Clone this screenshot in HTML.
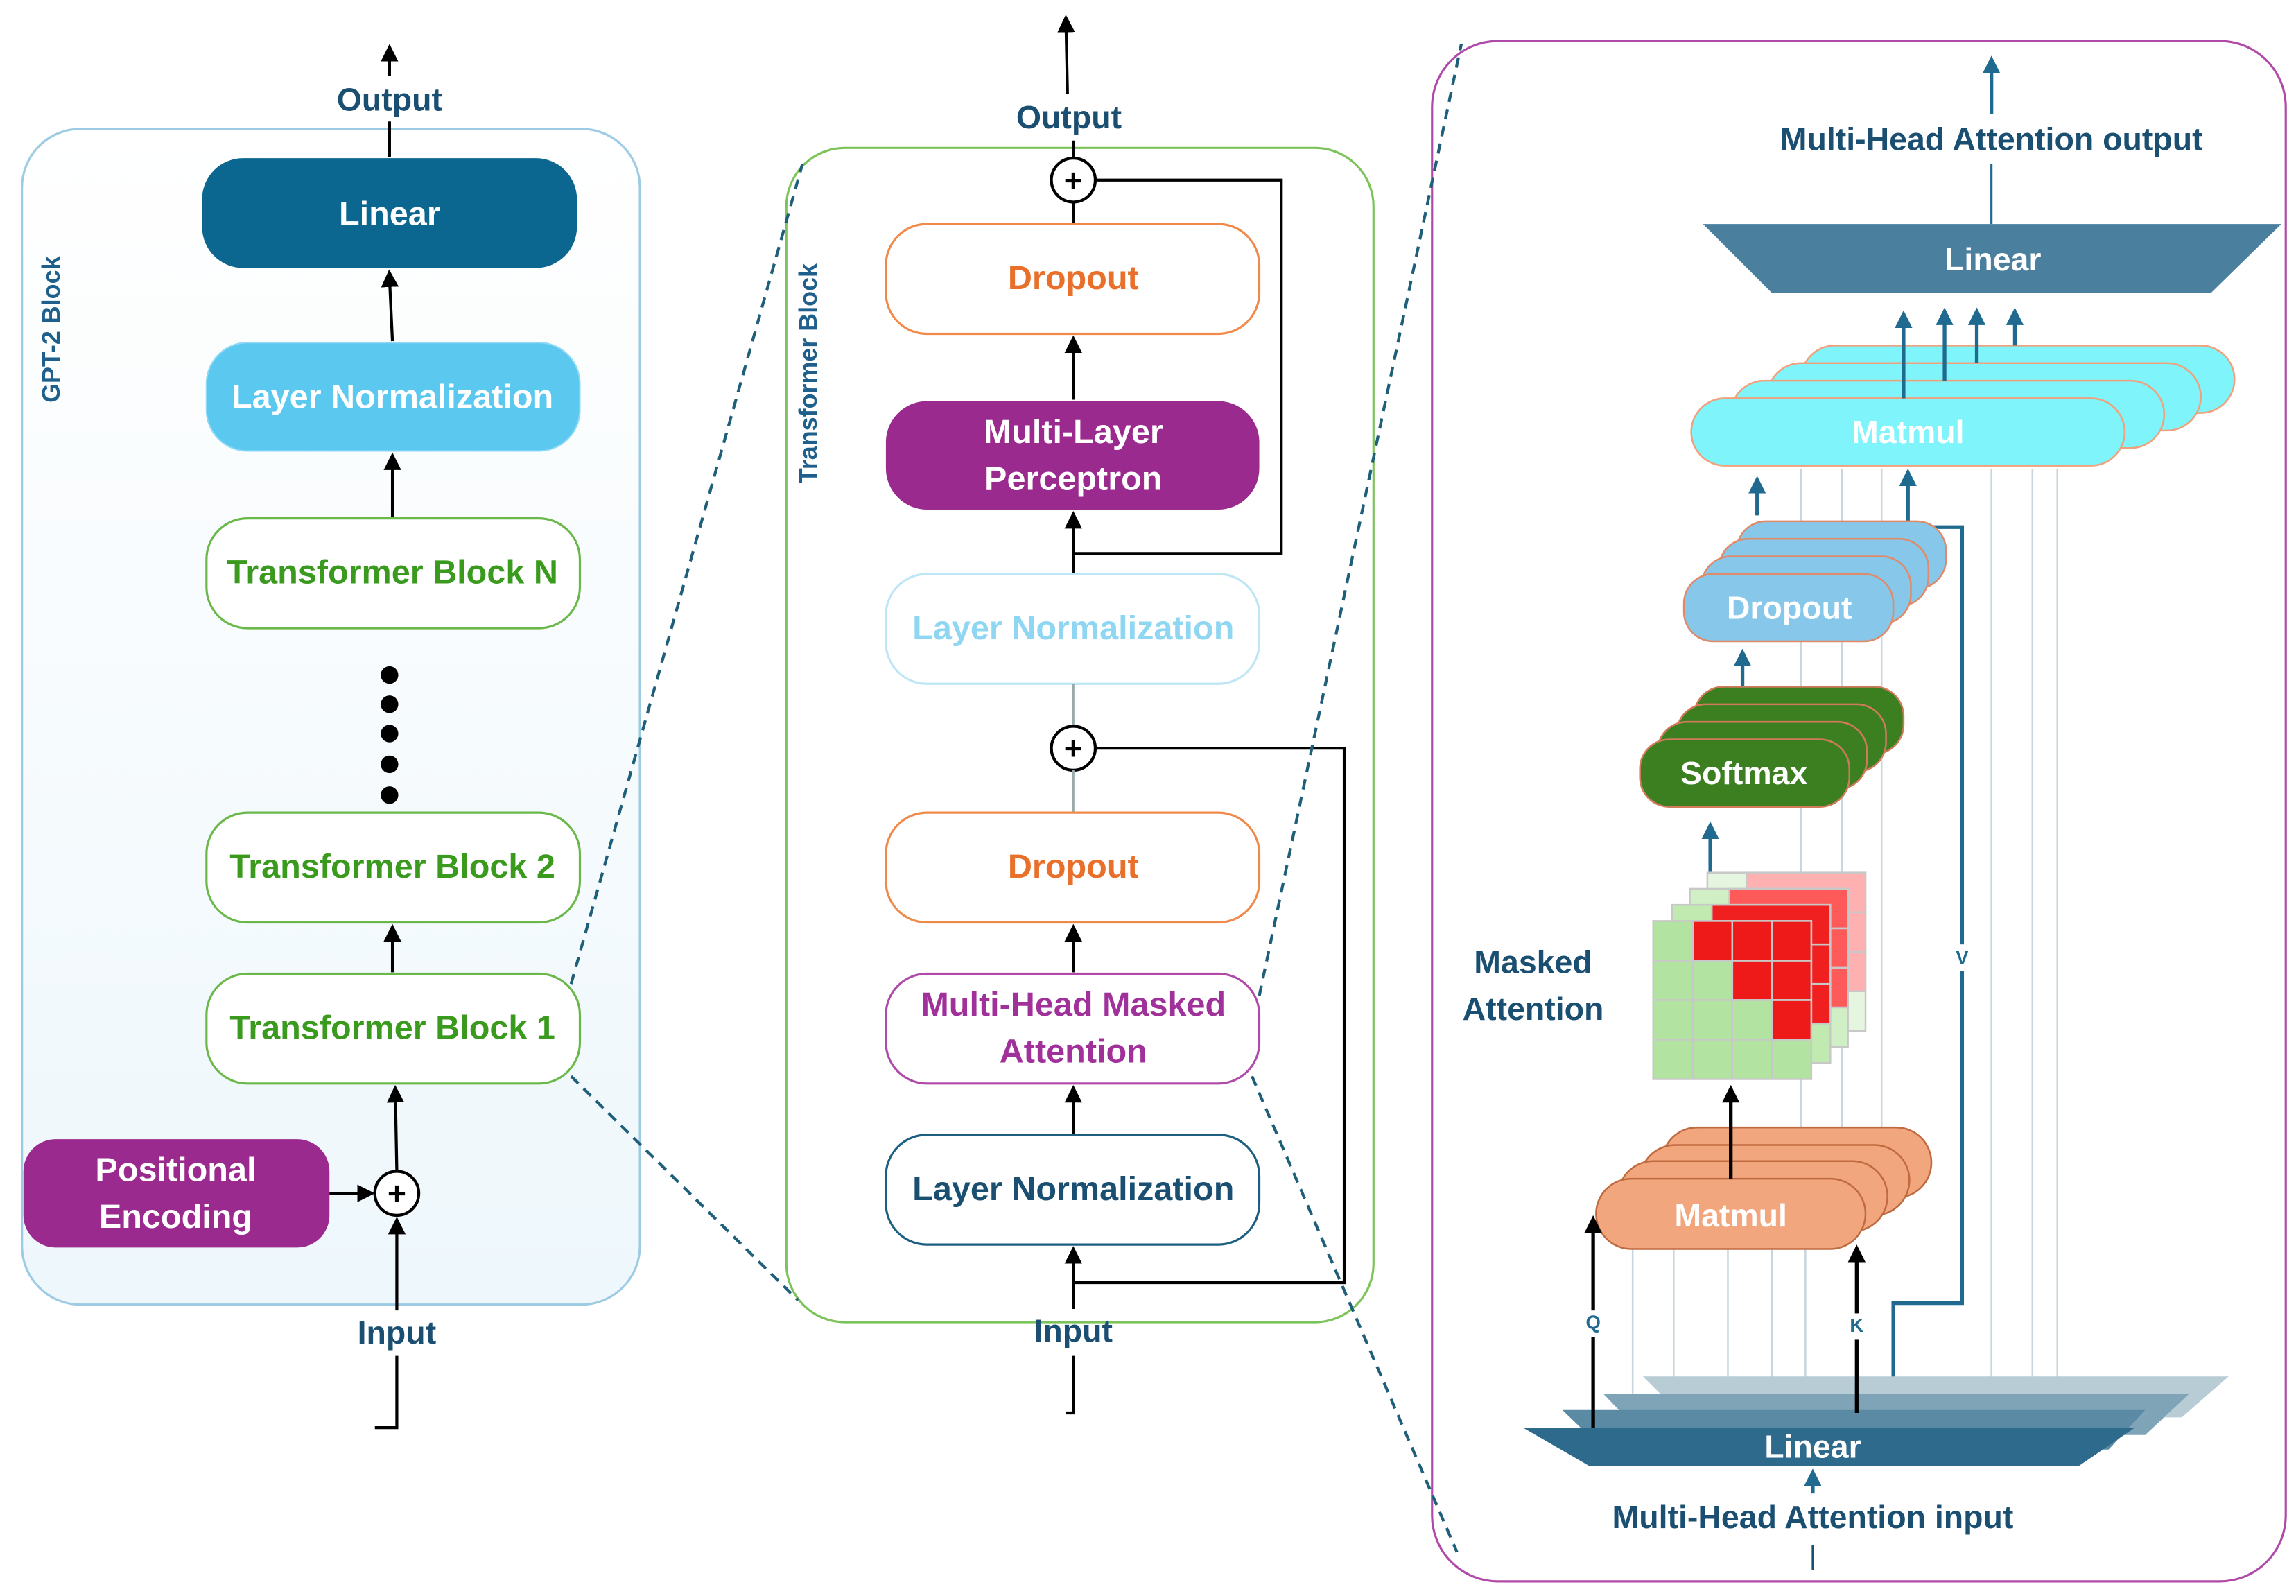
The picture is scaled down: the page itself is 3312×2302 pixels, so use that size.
<!DOCTYPE html>
<html><head><meta charset="utf-8"><style>
html,body{margin:0;padding:0;background:#fff}
svg{display:block}
text{font-family:"Liberation Sans",sans-serif;font-weight:bold;text-anchor:middle;dominant-baseline:central}
</style></head><body>
<svg width="3312" height="2302" viewBox="0 0 1568 1090" preserveAspectRatio="none" xmlns="http://www.w3.org/2000/svg">
<defs>
<marker id="au" markerWidth="12" markerHeight="12" refX="6" refY="6" orient="auto" markerUnits="userSpaceOnUse" viewBox="0 0 12 12"><path d="M0,0 L12,6 L0,12z" fill="#000"/></marker>
<marker id="abl" markerWidth="12" markerHeight="12" refX="6" refY="6" orient="auto" markerUnits="userSpaceOnUse" viewBox="0 0 12 12"><path d="M0,0 L12,6 L0,12z" fill="#1f6a8e"/></marker>
<linearGradient id="lg" x1="0" y1="0" x2="0" y2="1"><stop offset="0" stop-color="#fff"/><stop offset="1" stop-color="#eef7fc"/></linearGradient>
</defs>

<!-- LEFT PANEL -->
<rect x="15" y="88" width="422" height="803" rx="40" fill="url(#lg)" stroke="#9ccbe3" stroke-width="1.5"/>
<text x="35" y="225" transform="rotate(-90 35 225)" font-size="17" fill="#1f5f8b">GPT-2 Block</text>
<text x="266" y="68" font-size="22" fill="#1a4f72">Output</text>
<line x1="266" y1="52" x2="266" y2="36" stroke="#000" stroke-width="2" marker-end="url(#au)"/>
<line x1="266" y1="107" x2="266" y2="83" stroke="#000" stroke-width="2"/>
<rect x="138" y="108" width="256" height="75" rx="28" fill="#0b6690"/>
<text x="266" y="146" font-size="23" fill="#fff">Linear</text>
<line x1="268" y1="233" x2="266" y2="190" stroke="#000" stroke-width="2" marker-end="url(#au)"/>
<rect x="141" y="234" width="255" height="74" rx="28" fill="#5bc8f0" stroke="#8fd8f6"/>
<text x="268" y="271" font-size="23" fill="#fff">Layer Normalization</text>
<line x1="268" y1="353" x2="268" y2="315" stroke="#000" stroke-width="2" marker-end="url(#au)"/>
<rect x="141" y="354" width="255" height="75" rx="28" fill="#fff" stroke="#6bb84a" stroke-width="1.5"/>
<text x="268" y="391" font-size="23" fill="#3a9a1e">Transformer Block N</text>
<g fill="#000"><circle cx="266" cy="461" r="6"/><circle cx="266" cy="481" r="6"/><circle cx="266" cy="501" r="6"/><circle cx="266" cy="522" r="6"/><circle cx="266" cy="543" r="6"/></g>
<rect x="141" y="555" width="255" height="75" rx="28" fill="#fff" stroke="#6bb84a" stroke-width="1.5"/>
<text x="268" y="592" font-size="23" fill="#3a9a1e">Transformer Block 2</text>
<line x1="268" y1="664" x2="268" y2="637" stroke="#000" stroke-width="2" marker-end="url(#au)"/>
<rect x="141" y="665" width="255" height="75" rx="28" fill="#fff" stroke="#6bb84a" stroke-width="1.5"/>
<text x="268" y="702" font-size="23" fill="#3a9a1e">Transformer Block 1</text>
<line x1="271" y1="800" x2="270" y2="747" stroke="#000" stroke-width="2" marker-end="url(#au)"/>
<rect x="16" y="778" width="209" height="74" rx="22" fill="#9b2a8e"/>
<text x="120" y="799" font-size="23" fill="#fff">Positional</text>
<text x="120" y="831" font-size="23" fill="#fff">Encoding</text>
<line x1="225" y1="815" x2="250" y2="815" stroke="#000" stroke-width="2" marker-end="url(#au)"/>
<circle cx="271" cy="815" r="15" fill="#fff" stroke="#000" stroke-width="2"/>
<text x="271" y="815" font-size="22" fill="#000">+</text>
<text x="271" y="910" font-size="22" fill="#1a4f72">Input</text>
<polyline points="256,975 271,975 271,926" fill="none" stroke="#000" stroke-width="2"/>
<line x1="271" y1="895" x2="271" y2="837" stroke="#000" stroke-width="2" marker-end="url(#au)"/>

<!-- MIDDLE PANEL -->
<rect x="537" y="101" width="401" height="802" rx="40" fill="#fff" stroke="#7cc35a" stroke-width="1.5"/>
<line x1="390" y1="672" x2="548" y2="112" stroke="#1f5f7a" stroke-width="2" stroke-dasharray="7,5"/>
<line x1="390" y1="735" x2="545" y2="888" stroke="#1f5f7a" stroke-width="2" stroke-dasharray="7,5"/>
<text x="552" y="255" transform="rotate(-90 552 255)" font-size="17" fill="#1f5f8b">Transformer Block</text>
<text x="730" y="80" font-size="22" fill="#1a4f72">Output</text>
<line x1="729" y1="64" x2="728" y2="16" stroke="#000" stroke-width="2" marker-end="url(#au)"/>
<line x1="733" y1="108" x2="733" y2="96" stroke="#000" stroke-width="2"/>
<polyline points="748,123 875,123 875,378 733,378" fill="none" stroke="#000" stroke-width="2"/>
<circle cx="733" cy="123" r="15" fill="#fff" stroke="#000" stroke-width="2"/>
<text x="733" y="123" font-size="22" fill="#000">+</text>
<line x1="733" y1="153" x2="733" y2="138" stroke="#000" stroke-width="2"/>
<rect x="605" y="153" width="255" height="75" rx="28" fill="#fff" stroke="#f08a4b" stroke-width="1.5"/>
<text x="733" y="190" font-size="23" fill="#e8702a">Dropout</text>
<line x1="733" y1="273" x2="733" y2="235" stroke="#000" stroke-width="2" marker-end="url(#au)"/>
<rect x="605" y="274" width="255" height="74" rx="28" fill="#9b2a8e"/>
<text x="733" y="295" font-size="23" fill="#fff">Multi-Layer</text>
<text x="733" y="327" font-size="23" fill="#fff">Perceptron</text>
<line x1="733" y1="392" x2="733" y2="355" stroke="#000" stroke-width="2" marker-end="url(#au)"/>
<rect x="605" y="392" width="255" height="75" rx="28" fill="#fff" stroke="#bfe6f5" stroke-width="1.5"/>
<text x="733" y="429" font-size="23" fill="#8fd6f2">Layer Normalization</text>
<line x1="733" y1="467" x2="733" y2="496" stroke="#9aa" stroke-width="1.5"/>
<polyline points="748,511 918,511 918,876 733,876" fill="none" stroke="#000" stroke-width="2"/>
<circle cx="733" cy="511" r="15" fill="#fff" stroke="#000" stroke-width="2"/>
<text x="733" y="511" font-size="22" fill="#000">+</text>
<line x1="733" y1="555" x2="733" y2="526" stroke="#9aa" stroke-width="1.5"/>
<rect x="605" y="555" width="255" height="75" rx="28" fill="#fff" stroke="#f08a4b" stroke-width="1.5"/>
<text x="733" y="592" font-size="23" fill="#e8702a">Dropout</text>
<line x1="733" y1="664" x2="733" y2="637" stroke="#000" stroke-width="2" marker-end="url(#au)"/>
<rect x="605" y="665" width="255" height="75" rx="28" fill="#fff" stroke="#b04aa8" stroke-width="1.5"/>
<text x="733" y="686" font-size="23" fill="#a0309a">Multi-Head Masked</text>
<text x="733" y="718" font-size="23" fill="#a0309a">Attention</text>
<line x1="733" y1="775" x2="733" y2="747" stroke="#000" stroke-width="2" marker-end="url(#au)"/>
<rect x="605" y="775" width="255" height="75" rx="28" fill="#fff" stroke="#1d5f80" stroke-width="1.5"/>
<text x="733" y="812" font-size="23" fill="#1a4f72">Layer Normalization</text>
<line x1="733" y1="894" x2="733" y2="857" stroke="#000" stroke-width="2" marker-end="url(#au)"/>
<text x="733" y="909" font-size="22" fill="#1a4f72">Input</text>
<polyline points="728,965 733,965 733,926" fill="none" stroke="#000" stroke-width="2"/>

<!-- RIGHT PANEL -->
<rect x="978" y="28" width="583" height="1052" rx="45" fill="none" stroke="#b04aa8" stroke-width="1.5"/>
<line x1="860" y1="680" x2="998" y2="30" stroke="#1f5f7a" stroke-width="2" stroke-dasharray="7,5"/>
<line x1="855" y1="735" x2="995" y2="1060" stroke="#1f5f7a" stroke-width="2" stroke-dasharray="7,5"/>
<text x="1360" y="95" font-size="22" fill="#1a4f72">Multi-Head Attention output</text>
<line x1="1360" y1="78" x2="1360" y2="44" stroke="#1f6a8e" stroke-width="2.5" marker-end="url(#abl)"/>
<line x1="1360" y1="153" x2="1360" y2="112" stroke="#1f6a8e" stroke-width="1.5"/>
<polygon points="1163,153 1558,153 1510,200 1210,200" fill="#4a7f9e"/>
<text x="1361" y="177" font-size="22" fill="#fff">Linear</text>

<g stroke="#c8d6dd" stroke-width="1.2">
<line x1="1115" y1="850" x2="1115" y2="975"/><line x1="1143" y1="850" x2="1143" y2="960"/><line x1="1180" y1="850" x2="1180" y2="960"/><line x1="1210" y1="850" x2="1210" y2="960"/><line x1="1233" y1="850" x2="1233" y2="960"/>
<line x1="1230" y1="320" x2="1230" y2="770"/><line x1="1258" y1="320" x2="1258" y2="770"/><line x1="1285" y1="320" x2="1285" y2="770"/>
<line x1="1360" y1="320" x2="1360" y2="945"/><line x1="1388" y1="320" x2="1388" y2="945"/><line x1="1405" y1="320" x2="1405" y2="945"/>
</g>

<g fill="#7ff5fb" stroke="#f0a07a" stroke-width="1.2">
<rect x="1230" y="236" width="296" height="46" rx="23"/>
<rect x="1207" y="248" width="296" height="46" rx="23"/>
<rect x="1182" y="260" width="296" height="46" rx="23"/>
<rect x="1155" y="272" width="296" height="46" rx="23"/>
</g>
<text x="1303" y="295" font-size="22" fill="#fff">Matmul</text>
<g stroke="#1f6a8e" stroke-width="2.5" fill="none">
<line x1="1300" y1="272" x2="1300" y2="218" marker-end="url(#abl)"/>
<line x1="1328" y1="260" x2="1328" y2="216" marker-end="url(#abl)"/>
<line x1="1350" y1="248" x2="1350" y2="216" marker-end="url(#abl)"/>
<line x1="1376" y1="236" x2="1376" y2="216" marker-end="url(#abl)"/>
<line x1="1200" y1="352" x2="1200" y2="331" marker-end="url(#abl)"/>
<line x1="1190" y1="470" x2="1190" y2="449" marker-end="url(#abl)"/>
<line x1="1168" y1="605" x2="1168" y2="567" marker-end="url(#abl)"/>
<polyline points="1293,975 1293,890 1340,890 1340,360 1303,360 1303,326" marker-end="url(#abl)"/>
</g>
<rect x="1334" y="645" width="12" height="18" fill="#fff"/>
<text x="1340" y="654" font-size="13" font-weight="normal" fill="#1f6a8e">V</text>

<g fill="#86c7ea" stroke="#e08a6a" stroke-width="1.2">
<rect x="1186" y="356" width="143" height="46" rx="20"/>
<rect x="1174" y="368" width="143" height="46" rx="20"/>
<rect x="1162" y="380" width="143" height="46" rx="20"/>
<rect x="1150" y="392" width="143" height="46" rx="20"/>
</g>
<text x="1222" y="415" font-size="22" fill="#fff">Dropout</text>

<g fill="#3b7f21" stroke="#d07a5a" stroke-width="1.2">
<rect x="1157" y="469" width="143" height="46" rx="20"/>
<rect x="1145" y="481" width="143" height="46" rx="20"/>
<rect x="1132" y="493" width="143" height="46" rx="20"/>
<rect x="1120" y="505" width="143" height="46" rx="20"/>
</g>
<text x="1191" y="528" font-size="22" fill="#fff">Softmax</text>

<text x="1047" y="657" font-size="22" fill="#1a4f72">Masked</text>
<text x="1047" y="689" font-size="22" fill="#1a4f72">Attention</text>
<g stroke="#c8c8c8" stroke-width="1.2">
<g transform="translate(1166,596)">
<rect x="0" y="0" width="108" height="108" fill="#e6f5df"/>
<rect x="27" y="0" width="81" height="27" fill="#ffb0b0"/><rect x="54" y="27" width="54" height="27" fill="#ffb0b0"/><rect x="81" y="54" width="27" height="27" fill="#ffb0b0"/>
</g>
<g transform="translate(1154,607)">
<rect x="0" y="0" width="108" height="108" fill="#d0efc4"/>
<rect x="27" y="0" width="81" height="27" fill="#ff5a5a"/><rect x="54" y="27" width="54" height="27" fill="#ff5a5a"/><rect x="81" y="54" width="27" height="27" fill="#ff5a5a"/>
</g>
<g transform="translate(1142,618)">
<rect x="0" y="0" width="108" height="108" fill="#c0eab0"/>
<rect x="27" y="0" width="81" height="27" fill="#f02020"/><rect x="54" y="27" width="54" height="27" fill="#f02020"/><rect x="81" y="54" width="27" height="27" fill="#f02020"/>
</g>
<g transform="translate(1129,629)">
<rect x="0" y="0" width="108" height="108" fill="#b2e3a0"/>
<rect x="27" y="0" width="81" height="27" fill="#ee1a1a"/><rect x="54" y="27" width="54" height="27" fill="#ee1a1a"/><rect x="81" y="54" width="27" height="27" fill="#ee1a1a"/>
<path d="M27,0V108M54,0V108M81,0V108M0,27H108M0,54H108M0,81H108" fill="none"/>
</g>
</g>

<g fill="#f2a67e" stroke="#c06a40" stroke-width="1.2">
<rect x="1135" y="770" width="184" height="48" rx="24"/>
<rect x="1120" y="782" width="184" height="48" rx="24"/>
<rect x="1105" y="793" width="184" height="48" rx="24"/>
<rect x="1090" y="805" width="184" height="48" rx="24"/>
</g>
<text x="1182" y="830" font-size="22" font-weight="normal" fill="#fff">Matmul</text>
<line x1="1182" y1="805" x2="1182" y2="747" stroke="#000" stroke-width="2.5" marker-end="url(#au)"/>

<polygon points="1122,940 1522,940 1490,968 1150,968" fill="#b8ccd6"/>
<polygon points="1095,952 1495,952 1465,980 1122,980" fill="#7fa4b8"/>
<polygon points="1067,963 1465,963 1440,990 1095,990" fill="#5a8aa4"/>
<polygon points="1040,975 1458,975 1420,1001 1085,1001" fill="#2d6a8c"/>
<text x="1238" y="988" font-size="22" fill="#fff">Linear</text>

<line x1="1088" y1="975" x2="1088" y2="836" stroke="#000" stroke-width="2.5" marker-end="url(#au)"/>
<line x1="1268" y1="965" x2="1268" y2="856" stroke="#000" stroke-width="2.5" marker-end="url(#au)"/>
<rect x="1080" y="895" width="16" height="18" fill="#fff"/>
<text x="1088" y="903" font-size="13" font-weight="normal" fill="#1f6a8e">Q</text>
<rect x="1260" y="897" width="16" height="18" fill="#fff"/>
<text x="1268" y="905" font-size="13" font-weight="normal" fill="#1f6a8e">K</text>

<line x1="1238" y1="1020" x2="1238" y2="1009" stroke="#1f6a8e" stroke-width="2.5" marker-end="url(#abl)"/>
<text x="1238" y="1036" font-size="22" fill="#1a4f72">Multi-Head Attention input</text>
<line x1="1238" y1="1055" x2="1238" y2="1072" stroke="#1a4f72" stroke-width="1.5"/>
</svg>
</body></html>
